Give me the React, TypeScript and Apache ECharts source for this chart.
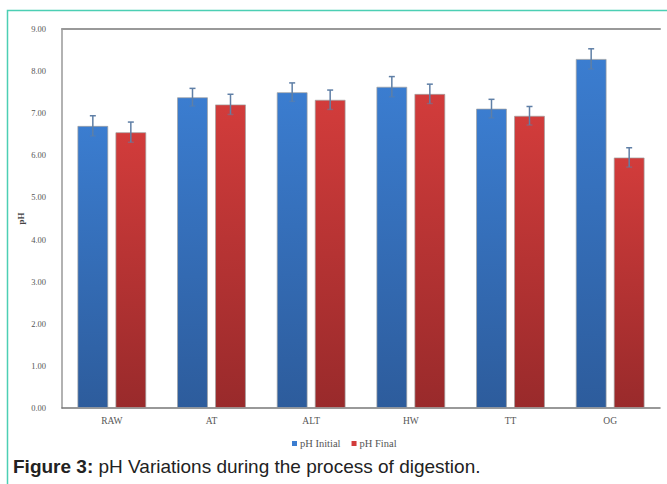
import React, { useEffect, useRef } from "react";
import * as echarts from "echarts";

const categories = ["RAW", "AT", "ALT", "HW", "TT", "OG"];
const phInitial = [6.7, 7.38, 7.5, 7.63, 7.11, 8.29];
const phFinal = [6.55, 7.21, 7.32, 7.46, 6.94, 5.95];
const errInitial = [0.24, 0.21, 0.22, 0.24, 0.22, 0.24];
const errFinal = [0.24, 0.24, 0.23, 0.23, 0.22, 0.23];
const yTicks = [0, 1, 2, 3, 4, 5, 6, 7, 8, 9];

const BAR_W = 0.31;
const GAP = 0.23;

function errorSeries(values: number[], errs: number[], side: number, color: string) {
  return {
    type: "custom",
    xAxisIndex: 0,
    yAxisIndex: 0,
    z: 10,
    silent: true,
    data: values.map((v, i) => [i, v, errs[i]]),
    renderItem: (params: any, api: any) => {
      const idx = api.value(0);
      const v = api.value(1);
      const e = api.value(2);
      const band = api.size([1, 0])[0];
      const bw = band * BAR_W;
      const off = side * (bw + bw * GAP) / 2;
      const x = api.coord([idx, v])[0] + off;
      const yHi = api.coord([idx, v + e])[1];
      const yLo = api.coord([idx, v - e])[1];
      const cap = 3;
      const style = { stroke: color, lineWidth: 1.5 };
      return {
        type: "group",
        children: [
          { type: "line", shape: { x1: x, y1: yHi, x2: x, y2: yLo }, style },
          { type: "line", shape: { x1: x - cap, y1: yHi, x2: x + cap, y2: yHi }, style },
          { type: "line", shape: { x1: x - cap, y1: yLo, x2: x + cap, y2: yLo }, style: { ...style, opacity: 0.5 } },
        ],
      };
    },
  };
}

export default function App() {
  const ref = useRef<HTMLDivElement>(null);
  useEffect(() => {
    if (!ref.current) return;
    const chart = echarts.init(ref.current, null, { renderer: "svg" });
    const serif = "'Liberation Serif', 'Times New Roman', serif";
    const blueGrad = new echarts.graphic.LinearGradient(0, 0, 0, 1, [
      { offset: 0, color: "#3b7dd0" },
      { offset: 1, color: "#2d5c9c" },
    ]);
    const redGrad = new echarts.graphic.LinearGradient(0, 0, 0, 1, [
      { offset: 0, color: "#d23c3b" },
      { offset: 1, color: "#992a2b" },
    ]);
    chart.setOption({
      animation: false,
      backgroundColor: "#ffffff",
      title: {
        left: 8,
        top: 452,
        text: "{b|Figure 3:} pH Variations during the process of digestion.",
        textStyle: {
          fontFamily: "'Liberation Sans', Arial, sans-serif",
          fontSize: 19,
          fontWeight: "normal",
          color: "#222",
          rich: {
            b: {
              fontFamily: "'Liberation Sans', Arial, sans-serif",
              fontSize: 19,
              fontWeight: "bold",
              color: "#222",
            },
          },
        },
      },
      legend: {
        left: 287,
        top: 433,
        itemWidth: 5,
        itemHeight: 5,
        itemGap: 11,
        icon: "rect",
        textStyle: { fontFamily: serif, fontSize: 10.5, color: "#555", padding: [0, 0, 0, -2] },
        data: [
          { name: "pH Initial", itemStyle: { color: "#3b7dd0", borderWidth: 0 } },
          { name: "pH Final", itemStyle: { color: "#d23c3b", borderWidth: 0 } },
        ],
      },
      grid: { left: 62, right: 7, top: 29, bottom: 76, containLabel: false },
      xAxis: [
        {
          type: "category",
          data: categories,
          axisLine: { show: true, lineStyle: { color: "#777", width: 1.5 } },
          axisTick: { show: false },
          axisLabel: { fontFamily: serif, fontSize: 9.5, color: "#555", margin: 8 },
        },
        {
          type: "category",
          position: "top",
          data: categories,
          axisLine: { show: true, lineStyle: { color: "#999", width: 2 } },
          axisTick: { show: false },
          axisLabel: { show: false },
        },
      ],
      yAxis: {
        type: "value",
        min: 0,
        max: 9,
        interval: 1,
        name: "pH",
        nameLocation: "middle",
        nameGap: 37,
        nameMoveOverlap: false,
        nameRotate: 90,
        nameTextStyle: { fontFamily: serif, fontSize: 9, fontWeight: "bold", color: "#444" },
        axisLine: { show: true, lineStyle: { color: "#999", width: 1.5 } },
        axisTick: { show: false },
        splitLine: { show: false },
        axisLabel: {
          fontFamily: serif,
          fontSize: 8.5,
          color: "#555",
          margin: 16,
          formatter: (v: number) => (yTicks.includes(v) ? v.toFixed(2) : ""),
        },
      },
      series: [
        {
          name: "pH Initial",
          type: "bar",
          data: phInitial,
          barWidth: `${BAR_W * 100}%`,
          barGap: `${GAP * 100}%`,
          itemStyle: { color: blueGrad, borderColor: "rgba(160,160,160,0.7)", borderWidth: 1 },
        },
        {
          name: "pH Final",
          type: "bar",
          data: phFinal,
          barWidth: `${BAR_W * 100}%`,
          barGap: `${GAP * 100}%`,
          itemStyle: { color: redGrad, borderColor: "rgba(160,160,160,0.7)", borderWidth: 1 },
        },
        errorSeries(phInitial, errInitial, -1, "#5f7fa6"),
        errorSeries(phFinal, errFinal, 1, "#5f7fa6"),
      ],
      graphic: [
        {
          type: "polyline",
          shape: { points: [[7.5, 484], [7.5, 10.5], [667, 10.5]] },
          style: { stroke: "#4ccfb4", lineWidth: 1.5, fill: "none" },
          silent: true,
        },
      ],
    });
    return () => chart.dispose();
  }, []);
  return (
    <div
      ref={ref}
      style={{ position: "fixed", left: 0, top: 0, width: 667, height: 484 }}
    />
  );
}
